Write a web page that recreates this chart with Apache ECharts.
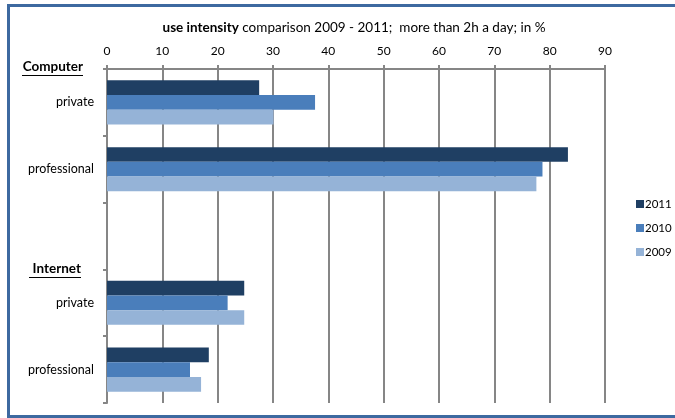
<!DOCTYPE html>
<html>
<head>
<meta charset="utf-8">
<script src="https://cdn.jsdelivr.net/npm/echarts@6/dist/echarts.min.js"></script>
<style>
  html, body { margin: 0; padding: 0; background: #fff; }
  #chart { width: 675px; height: 418px; }
</style>
</head>
<body>
<div id="chart"></div>
<script>
// categories top to bottom; blank row separates Computer / Internet groups
const categories = ['private', 'professional', '', 'private', 'professional']
const groupLabels = ['Computer', 'Internet']
const years = ['2011', '2010', '2009']
const values2011 = [27.5, 83.3, null, 24.8, 18.4]
const values2010 = [37.6, 78.7, null, 21.8, 15.0]
const values2009 = [30.1, 77.6, null, 24.8, 17.0]
const xTicks = [0, 90, 10]

const colors = ['#1f3f63', '#4a7ebb', '#95b3d7']
const font = 'Lato, "Open Sans", sans-serif'
const gridColor = '#868686'

let myChart = echarts.init(document.getElementById('chart'))
myChart.setOption({
  animation: false,
  color: colors,
  textStyle: { fontFamily: font },
  title: {
    text: '{b|use intensity}{n| comparison 2009 - 2011;  more than 2h a day; in %}',
    left: 349,
    textAlign: 'center',
    top: 16,
    textStyle: {
      rich: {
        b: { fontFamily: font, fontSize: 13.5, fontWeight: 'bold', color: '#000' },
        n: { fontFamily: font, fontSize: 13.5, fontWeight: 'normal', color: '#000' }
      }
    }
  },
  legend: {
    data: years,
    orient: 'vertical',
    left: 631,
    top: 193,
    itemWidth: 8,
    itemHeight: 8,
    itemGap: 12,
    icon: 'rect',
    textStyle: { fontFamily: font, fontSize: 11.5, color: '#000', padding: [0, 0, 0, -4] }
  },
  grid: { left: 107, right: 70, top: 69, bottom: 15, containLabel: false },
  xAxis: {
    type: 'value',
    position: 'top',
    min: xTicks[0],
    max: xTicks[1],
    interval: xTicks[2],
    axisLine: { show: true, lineStyle: { color: gridColor, width: 2 } },
    axisTick: { show: true, length: 4, lineStyle: { color: gridColor, width: 2 } },
    axisLabel: { margin: 12, fontSize: 12, color: '#000', fontFamily: font },
    splitLine: { show: true, lineStyle: { color: gridColor, width: 2 } }
  },
  yAxis: {
    type: 'category',
    inverse: true,
    data: categories,
    axisLine: { show: true, lineStyle: { color: gridColor, width: 2 } },
    axisTick: { show: true, length: 4, lineStyle: { color: gridColor, width: 2 } },
    axisLabel: { margin: 13, fontSize: 12.5, color: '#000', fontFamily: font }
  },
  graphic: [
    { type: 'rect', shape: { x: 8.5, y: 5.5, width: 700, height: 411 }, style: { fill: 'none', stroke: '#3d69a0', lineWidth: 3 }, z: 0 },
    { type: 'line', shape: { x1: 8, y1: 416.5, x2: 675, y2: 416.5 }, style: { stroke: '#3d69a0', lineWidth: 1 } },
    { type: 'text', right: 675 - 83, top: 60, style: { text: groupLabels[0], font: 'bold 13.5px ' + font, fill: '#000' } },
    { type: 'line', shape: { x1: 22, y1: 75.5, x2: 83, y2: 75.5 }, style: { stroke: '#000', lineWidth: 1 } },
    { type: 'text', right: 675 - 81, top: 262, style: { text: groupLabels[1], font: 'bold 13.5px ' + font, fill: '#000' } },
    { type: 'line', shape: { x1: 29, y1: 277.5, x2: 81, y2: 277.5 }, style: { stroke: '#000', lineWidth: 1 } }
  ],
  series: [
    { name: years[0], type: 'bar', data: values2011, barGap: '0%', barCategoryGap: '34%' },
    { name: years[1], type: 'bar', data: values2010 },
    { name: years[2], type: 'bar', data: values2009 }
  ]
})
</script>
</body>
</html>
